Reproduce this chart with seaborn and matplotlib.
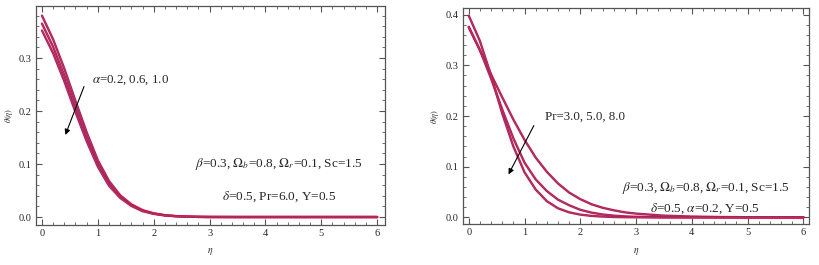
import numpy as np
import pandas as pd
import matplotlib
matplotlib.use("Agg")
import matplotlib.pyplot as plt
from matplotlib.ticker import MultipleLocator, FormatStrFormatter
import seaborn as sns

# eta grid the curves were read on
eta = [0.0, 0.2, 0.4, 0.6, 0.8, 1.0, 1.2, 1.4, 1.6, 1.8, 2.0, 2.2, 2.4, 2.6, 2.8,
       3.0, 3.5, 4.0, 4.5, 5.0, 5.5, 6.0]

# left panel: alpha = 0.2, 0.6, 1.0
theta_a02 = [0.380, 0.335, 0.280, 0.219, 0.160, 0.107, 0.068, 0.041, 0.024, 0.013, 0.007,
             0.0035, 0.0017, 0.0008, 0.0003, 0.0001, 0.0, 0.0, 0.0, 0.0, 0.0, 0.0]
theta_a06 = [0.365, 0.321, 0.267, 0.208, 0.151, 0.100, 0.063, 0.038, 0.022, 0.012, 0.0065,
             0.0032, 0.0016, 0.0007, 0.0003, 0.0001, 0.0, 0.0, 0.0, 0.0, 0.0, 0.0]
theta_a10 = [0.352, 0.309, 0.256, 0.198, 0.143, 0.095, 0.059, 0.036, 0.021, 0.011, 0.006,
             0.003, 0.0015, 0.0007, 0.0003, 0.0001, 0.0, 0.0, 0.0, 0.0, 0.0, 0.0]

# right panel: Pr = 3.0, 5.0, 8.0
theta_pr3 = [0.375, 0.330, 0.282, 0.237, 0.193, 0.153, 0.118, 0.090, 0.067, 0.049, 0.036,
             0.026, 0.019, 0.014, 0.010, 0.0075, 0.0035, 0.0017, 0.0008, 0.0004, 0.0002, 0.0001]
theta_pr5 = [0.376, 0.330, 0.274, 0.213, 0.156, 0.108, 0.075, 0.052, 0.035, 0.024, 0.015,
             0.0095, 0.0058, 0.0035, 0.002, 0.0012, 0.0003, 0.0001, 0.0, 0.0, 0.0, 0.0]
theta_pr8 = [0.398, 0.348, 0.280, 0.205, 0.140, 0.089, 0.055, 0.032, 0.018, 0.010, 0.0055,
             0.003, 0.0016, 0.0008, 0.0004, 0.0002, 0.0, 0.0, 0.0, 0.0, 0.0, 0.0]

sns.set_style("ticks")
plt.rcParams["font.family"] = ["Liberation Serif", "DejaVu Serif"]
plt.rcParams["mathtext.fontset"] = "stix"

red = "#d8103a"
blue = "#5a5aa8"
frame = "#555555"

fig = plt.figure(figsize=(8.2, 2.65), dpi=100)
ax1 = fig.add_axes([0.0439, 0.151, 0.4256, 0.826])
ax2 = fig.add_axes([0.5643, 0.1547, 0.4223, 0.815])


def draw_curves(ax, curves):
    for vals in curves:
        df = pd.DataFrame({"eta": eta, "theta": vals})
        sns.lineplot(data=df, x="eta", y="theta", ax=ax, color=red, lw=1.7)
        sns.lineplot(data=df, x="eta", y="theta", ax=ax, color=blue, lw=0.5)


def style_axes(ax, xlim, ylim, ymax_tick):
    ax.set_xlim(*xlim)
    ax.set_ylim(*ylim)
    ax.xaxis.set_major_locator(MultipleLocator(1))
    ax.xaxis.set_minor_locator(MultipleLocator(0.2))
    ax.set_yticks(np.arange(0, ymax_tick + 0.001, 0.1))
    ax.yaxis.set_minor_locator(MultipleLocator(0.02))
    ax.yaxis.set_major_formatter(FormatStrFormatter("%.1f"))
    ax.tick_params(which="both", direction="in", top=True, right=True,
                   color=frame, labelsize=7.5, pad=3)
    ax.tick_params(which="major", length=4, width=0.8)
    ax.tick_params(which="minor", length=2, width=0.6)
    for s in ax.spines.values():
        s.set_color(frame)
        s.set_linewidth(0.9)
    ax.set_xlabel(r"$\eta$", fontsize=7, labelpad=6)
    ax.set_ylabel(r"$\theta(\eta)$", fontsize=6, labelpad=3)


draw_curves(ax1, [theta_a02, theta_a06, theta_a10])
style_axes(ax1, (-0.107, 6.14), (-0.015, 0.398), 0.3)
ax1.annotate("", xy=(0.40, 0.150), xytext=(0.77, 0.251),
             arrowprops=dict(arrowstyle="-|>", color="black", lw=0.8, mutation_scale=8))
ax1.text(0.90, 0.258, r"$\alpha$=0.2, 0.6, 1.0", fontsize=9.3, va="center", ha="left")
ax1.text(4.24, 0.100, r"$\beta$=0.3, $\Omega_b$=0.8, $\Omega_r$=0.1, Sc=1.5",
         fontsize=9.5, va="center", ha="center")
ax1.text(4.25, 0.038, r"$\delta$=0.5, Pr=6.0, Y=0.5", fontsize=9.5, va="center", ha="center")

draw_curves(ax2, [theta_pr3, theta_pr5, theta_pr8])
style_axes(ax2, (-0.108, 6.1), (-0.013, 0.413), 0.4)
ax2.annotate("", xy=(0.69, 0.080), xytext=(1.19, 0.186),
             arrowprops=dict(arrowstyle="-|>", color="black", lw=0.8, mutation_scale=8))
ax2.text(1.37, 0.199, "Pr=3.0, 5.0, 8.0", fontsize=9.3, va="center", ha="left")
ax2.text(4.24, 0.059, r"$\beta$=0.3, $\Omega_b$=0.8, $\Omega_r$=0.1, Sc=1.5",
         fontsize=9.5, va="center", ha="center")
ax2.text(4.24, 0.018, r"$\delta$=0.5, $\alpha$=0.2, Y=0.5", fontsize=9.5, va="center", ha="center")

fig.savefig("out.png", dpi=100)
